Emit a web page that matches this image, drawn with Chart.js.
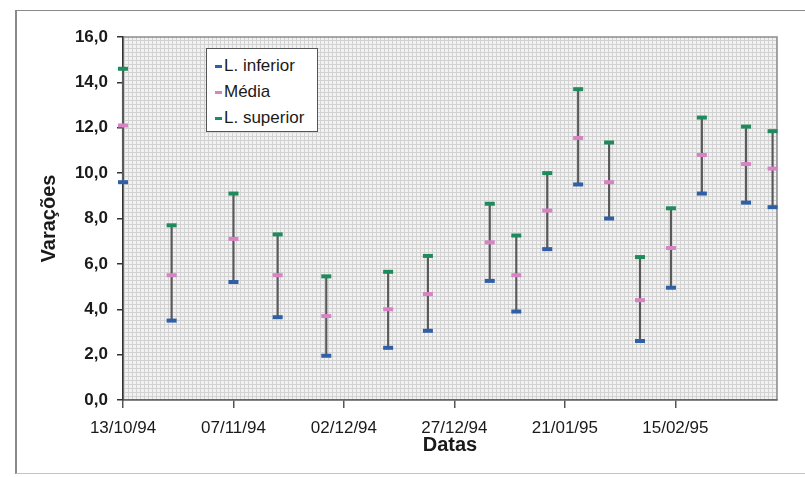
<!DOCTYPE html>
<html>
<head>
<meta charset="utf-8">
<script src="https://cdn.jsdelivr.net/npm/chart.js@4/dist/chart.umd.min.js"></script>
<style>
  body { margin: 0; background: #fff; }
  #wrap { position: relative; width: 805px; height: 477px; }
  #frame {
    position: absolute; left: 15px; top: 10px; width: 790px; height: 464px;
    border-top: 1px solid #8a8a8a; border-left: 2px solid #8a8a8a; border-bottom: 1px solid #c4c4c4;
    box-sizing: border-box;
  }
  #chart { position: absolute; left: 0; top: 0; }
  #legend {
    position: absolute; left: 206px; top: 48px; width: 112px; height: 84px;
    box-sizing: border-box; background: #fff; border: 1px solid #555;
    padding: 4px 0 0 8px;
    font-family: 'Liberation Sans', Arial, sans-serif; font-size: 17px; color: #1a1a1a;
  }
  #legend .row { height: 26px; line-height: 26px; white-space: nowrap; }
  #legend .mark { display: inline-block; width: 7px; height: 3px; margin-right: 2px; vertical-align: middle; }
</style>
</head>
<body>
<div id="wrap">
  <div id="frame"></div>
  <canvas id="chart" width="805" height="477"></canvas>
  <div id="legend"></div>
</div>
<script>
// sampling dates (dd/mm/yy)
const dates = ['13/10/94', '24/10/94', '07/11/94', '17/11/94', '28/11/94', '12/12/94', '21/12/94',
  '04/01/95', '10/01/95', '17/01/95', '24/01/95', '31/01/95', '07/02/95', '14/02/95',
  '21/02/95', '03/03/95', '09/03/95'];
const lower = [9.6, 3.5, 5.2, 3.65, 1.95, 2.3, 3.05, 5.25, 3.9, 6.65, 9.5, 8.0, 2.6, 4.95, 9.1, 8.7, 8.5];
const media = [12.1, 5.5, 7.1, 5.5, 3.7, 4.0, 4.67, 6.95, 5.5, 8.35, 11.55, 9.6, 4.4, 6.7, 10.8, 10.4, 10.2];
const upper = [14.6, 7.7, 9.1, 7.3, 5.45, 5.65, 6.35, 8.65, 7.25, 10.0, 13.7, 11.35, 6.3, 8.45, 12.45, 12.05, 11.85];
const seriesNames = ['L. inferior', 'Média', 'L. superior'];
const seriesColors = ['#2f5fa6', '#d883c4', '#1f8b5c'];
const axisEnd = '10/03/95';
const dayStep = 25;

// dates become day offsets from the first sample
function toUTC(s) {
  const p = s.split('/').map(Number);
  return Date.UTC(1900 + p[2], p[1] - 1, p[0]);
}
const t0 = toUTC(dates[0]);
const dayOf = s => Math.round((toUTC(s) - t0) / 86400000);
function dayLabel(n) {
  const d = new Date(t0 + n * 86400000);
  const pad = v => String(v).padStart(2, '0');
  return pad(d.getUTCDate()) + '/' + pad(d.getUTCMonth() + 1) + '/' + pad(d.getUTCFullYear() % 100);
}
const days = dates.map(dayOf);

// fine hatched fill of the plot area
const tile = document.createElement('canvas');
tile.width = 4; tile.height = 4;
const tctx = tile.getContext('2d');
tctx.fillStyle = '#f2f2f2';
tctx.fillRect(0, 0, 4, 4);
tctx.fillStyle = '#d2d2d2';
tctx.fillRect(0, 0, 4, 1);
tctx.fillRect(0, 0, 1, 4);

const plotBackground = {
  id: 'plotBackground',
  beforeDraw(chart) {
    const {ctx, chartArea: a} = chart;
    ctx.save();
    ctx.fillStyle = ctx.createPattern(tile, 'repeat');
    ctx.fillRect(a.left, a.top, a.width, a.height);
    ctx.strokeStyle = '#8c8c8c';
    ctx.lineWidth = 1.5;
    ctx.strokeRect(a.left, a.top, a.width, a.height);
    ctx.restore();
  }
};

const font = "'Liberation Sans', Arial, sans-serif";
const pts = arr => days.map((d, i) => ({x: d, y: arr[i]}));

const ctx = document.getElementById('chart').getContext('2d');
new Chart(ctx, {
  type: 'scatter',
  data: {
    datasets: [
      {
        type: 'bar',
        label: 'range',
        data: days.map((d, i) => ({x: d, y: [lower[i], upper[i]]})),
        backgroundColor: '#5a5a5a',
        borderWidth: 0,
        barThickness: 1.5,
        clip: false,
        order: 10
      },
      ...[lower, media, upper].map((arr, k) => ({
        label: seriesNames[k],
        data: pts(arr),
        pointStyle: 'line',
        pointRadius: 5,
        pointHoverRadius: 5,
        borderWidth: 4,
        pointBorderWidth: 4,
        borderColor: seriesColors[k],
        backgroundColor: seriesColors[k],
        clip: false,
        order: 3 - k
      }))
    ]
  },
  options: {
    responsive: false,
    animation: false,
    layout: { padding: { top: 37, right: 28, left: 0, bottom: 0 } },
    plugins: {
      legend: { display: false },
      tooltip: { enabled: false }
    },
    scales: {
      x: {
        type: 'linear',
        min: 0,
        max: dayOf(axisEnd),
        offset: false,
        grid: { display: true, offset: false, drawOnChartArea: false, drawTicks: true, tickLength: 8, color: '#555', lineWidth: 1.5 },
        border: { display: true, color: '#666', width: 1.5 },
        ticks: {
          stepSize: dayStep,
          includeBounds: false,
          maxRotation: 0,
          autoSkip: false,
          padding: 10,
          color: '#1a1a1a',
          font: { family: font, size: 17 },
          callback: v => dayLabel(v)
        },
        title: {
          display: true,
          text: 'Datas',
          color: '#1a1a1a',
          font: { family: font, size: 20, weight: 'bold' },
          padding: { top: 0, bottom: 20 }
        },
        afterFit: s => { s.height = 77; }
      },
      y: {
        min: 0,
        max: 16,
        grid: { display: true, drawOnChartArea: false, drawTicks: true, tickLength: 6, color: '#333', lineWidth: 1.5 },
        border: { display: true, color: '#333', width: 1.5 },
        ticks: {
          stepSize: 2,
          padding: 9,
          color: '#1a1a1a',
          font: { family: font, size: 17, weight: 'bold' },
          callback: v => v.toFixed(1).replace('.', ',')
        },
        title: {
          display: true,
          text: 'Varações',
          color: '#1a1a1a',
          font: { family: font, size: 20, weight: 'bold' },
          padding: { top: 37, bottom: 0 }
        },
        afterFit: s => { s.width = 123; }
      }
    }
  },
  plugins: [plotBackground]
});

// legend box inside the plot
const legend = document.getElementById('legend');
seriesNames.forEach((name, k) => {
  const row = document.createElement('div');
  row.className = 'row';
  const mark = document.createElement('span');
  mark.className = 'mark';
  mark.style.background = seriesColors[k];
  row.appendChild(mark);
  row.appendChild(document.createTextNode(name));
  legend.appendChild(row);
});
</script>
</body>
</html>
